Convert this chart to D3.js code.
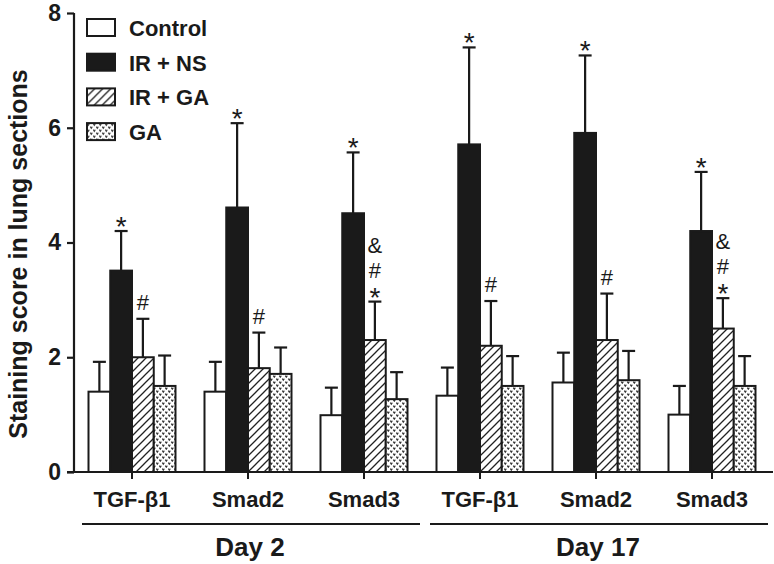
<!DOCTYPE html>
<html lang="en">
<head>
<meta charset="UTF-8">
<title>Staining score</title>
<script src="https://d3js.org/d3.v7.min.js"></script>
<style>
  body { margin: 0; background: #fff; }
  svg { display: block; font-family: "Liberation Sans", Arial, sans-serif; }
  .bold { font-weight: bold; }
</style>
</head>
<body>
<div id="chart"></div>
<script>
// data
var groups = ["TGF-β1", "Smad2", "Smad3", "TGF-β1", "Smad2", "Smad3"];
var days = ["Day 2", "Day 17"];
var series = ["Control", "IR + NS", "IR + GA", "GA"];
var yTicks = [0, 2, 4, 6, 8];

var control    = [1.40, 1.40, 0.99, 1.33, 1.56, 1.00];
var controlErr = [0.52, 0.52, 0.48, 0.49, 0.52, 0.50];
var irns       = [3.51, 4.61, 4.51, 5.71, 5.91, 4.20];
var irnsErr    = [0.69, 1.47, 1.06, 1.69, 1.35, 1.03];
var irga       = [2.00, 1.81, 2.30, 2.20, 2.30, 2.50];
var irgaErr    = [0.67, 0.62, 0.67, 0.78, 0.81, 0.53];
var ga         = [1.50, 1.71, 1.27, 1.50, 1.60, 1.50];
var gaErr      = [0.53, 0.46, 0.47, 0.52, 0.51, 0.52];

// significance marks, listed bottom to top
var irnsMarks = [["*"], ["*"], ["*"], ["*"], ["*"], ["*"]];
var irgaMarks = [["#"], ["#"], ["*", "#", "&"], ["#"], ["#"], ["*", "#", "&"]];

var W = 774, H = 564;
var svg = d3.select("#chart").append("svg").attr("width", W).attr("height", H);

var defs = svg.append("defs");
var hatch = defs.append("pattern").attr("id", "hatch")
  .attr("patternUnits", "userSpaceOnUse").attr("width", 8).attr("height", 8);
hatch.append("rect").attr("width", 8).attr("height", 8).attr("fill", "#fff");
hatch.append("path").attr("d", "M0,8 L8,0 M-2,2 L2,-2 M6,10 L10,6")
  .attr("stroke", "#222").attr("stroke-width", 1.3);

var dots = defs.append("pattern").attr("id", "dots")
  .attr("patternUnits", "userSpaceOnUse").attr("width", 6).attr("height", 6);
dots.append("rect").attr("width", 6).attr("height", 6).attr("fill", "#fff");
dots.append("path").attr("d", "M0.3,0.6 L1.3,2.2 L2.3,0.6 M3.3,3.6 L4.3,5.2 L5.3,3.6")
  .attr("stroke", "#333").attr("stroke-width", 1.1).attr("fill", "none");

var fills = ["#fff", "#1a1a1a", "url(#hatch)", "url(#dots)"];
var values = [control, irns, irga, ga];
var errs = [controlErr, irnsErr, irgaErr, gaErr];

var y = d3.scaleLinear().domain([0, 8]).range([472, 13]);
var x0 = d3.scaleBand().domain(d3.range(groups.length)).range([74, 770]);
var x1 = d3.scaleBand().domain(series).range([14.5, 101.5]);

// bars
var rows = [];
series.forEach(function(s, si) {
  groups.forEach(function(g, gi) {
    rows.push({s: s, si: si, gi: gi, v: values[si][gi], e: errs[si][gi]});
  });
});

// error bars first (drawn behind bar tops)
var eb = svg.append("g").attr("stroke", "#1a1a1a").attr("stroke-width", 2.2);
rows.forEach(function(d) {
  var cx = x0(d.gi) + x1(d.s) + x1.bandwidth() / 2;
  eb.append("line").attr("x1", cx).attr("x2", cx).attr("y1", y(d.v)).attr("y2", y(d.v + d.e));
  eb.append("line").attr("x1", cx - 6.5).attr("x2", cx + 6.5).attr("y1", y(d.v + d.e)).attr("y2", y(d.v + d.e));
});

svg.append("g").selectAll("rect").data(rows).enter().append("rect")
  .attr("x", d => x0(d.gi) + x1(d.s))
  .attr("y", d => y(d.v))
  .attr("width", x1.bandwidth())
  .attr("height", d => y(0) - y(d.v))
  .attr("fill", d => fills[d.si])
  .attr("stroke", "#1a1a1a").attr("stroke-width", 2);

// significance marks
function drawMarks(marks, si) {
  marks.forEach(function(list, gi) {
    var cx = x0(gi) + x1(series[si]) + x1.bandwidth() / 2;
    var top = y(values[si][gi] + errs[si][gi]);
    list.forEach(function(m, k) {
      var by;
      if (m === "*") by = top + 5;
      else if (list.length === 1) by = top - 9;
      else by = top - 24 - (k - 1) * 25;
      svg.append("text").attr("x", cx).attr("y", by)
        .attr("text-anchor", "middle").attr("fill", "#1a1a1a")
        .style("font-size", m === "*" ? "28px" : "22px")
        .text(m);
    });
  });
}
drawMarks(irnsMarks, 1);
drawMarks(irgaMarks, 2);

// y axis
var yAxis = svg.append("g").attr("transform", "translate(74,0)")
  .call(d3.axisLeft(y).tickValues(yTicks).tickSize(7).tickPadding(6).tickFormat(d3.format("d")));
yAxis.selectAll("path, line").attr("stroke", "#1a1a1a").attr("stroke-width", 2.2);
yAxis.select(".domain").attr("d", "M0," + y(8) + "V" + y(0));
yAxis.selectAll("text").attr("class", "bold").style("font-size", "23px").attr("fill", "#1a1a1a");

// x axis
svg.append("line").attr("x1", 67).attr("x2", 773).attr("y1", y(0)).attr("y2", y(0))
  .attr("stroke", "#1a1a1a").attr("stroke-width", 2.2);
svg.append("g").selectAll("line").data(groups).enter().append("line")
  .attr("x1", (d, i) => x0(i) + x0.bandwidth() / 2)
  .attr("x2", (d, i) => x0(i) + x0.bandwidth() / 2)
  .attr("y1", y(0)).attr("y2", y(0) + 7)
  .attr("stroke", "#1a1a1a").attr("stroke-width", 2);
svg.append("g").selectAll("text").data(groups).enter().append("text")
  .attr("class", "bold")
  .attr("x", (d, i) => x0(i) + x0.bandwidth() / 2)
  .attr("y", 507).attr("text-anchor", "middle")
  .style("font-size", "22px").attr("fill", "#1a1a1a")
  .text(d => d);

// day brackets
days.forEach(function(d, di) {
  var a = x0(di * 3), b = x0(di * 3 + 2) + x0.bandwidth();
  svg.append("line").attr("x1", a + 8).attr("x2", b - 2).attr("y1", 524).attr("y2", 524)
    .attr("stroke", "#1a1a1a").attr("stroke-width", 2.2);
  svg.append("text").attr("class", "bold").attr("x", (a + b) / 2 + 2).attr("y", 556)
    .attr("text-anchor", "middle").style("font-size", "26px").attr("fill", "#1a1a1a").text(d);
});

// y title
svg.append("text").attr("class", "bold")
  .attr("transform", "translate(27,254) rotate(-90)")
  .attr("text-anchor", "middle").style("font-size", "25px").attr("fill", "#1a1a1a")
  .text("Staining score in lung sections");

// legend
var lg = svg.append("g").selectAll("g").data(series).enter().append("g")
  .attr("transform", (d, i) => "translate(87," + (19 + i * 34.7) + ")");
lg.append("rect").attr("width", 28).attr("height", 17)
  .attr("fill", (d, i) => fills[i]).attr("stroke", "#1a1a1a").attr("stroke-width", 2);
lg.append("text").attr("class", "bold").attr("x", 42).attr("y", 17)
  .style("font-size", "22px").attr("fill", "#1a1a1a").text(d => d);
</script>
</body>
</html>
